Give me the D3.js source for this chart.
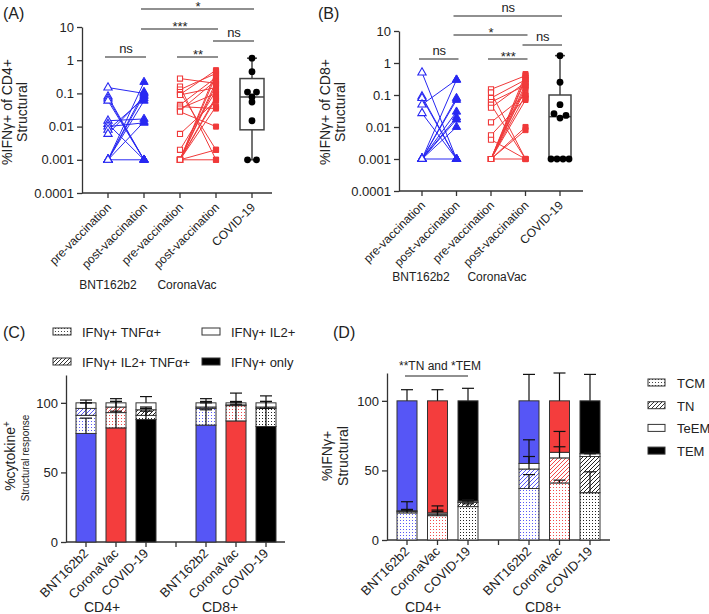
<!DOCTYPE html>
<html>
<head>
<script src="https://d3js.org/d3.v7.min.js"></script>
<style>
  body { margin: 0; background: #fff; }
  text { font-family: "Liberation Sans", Arial, sans-serif; fill: #222; }
  .axis path, .axis line { stroke: #333; stroke-width: 1.3; }
  .axis text { font-size: 13px; fill: #222; }
</style>
</head>
<body>
<div id="chart"></div>
<script>
// ---------- data ----------
// panels A/B: paired points (pre -> post) and COVID-19 convalescents
const pairLabels = ["pre-vaccination", "post-vaccination", "pre-vaccination", "post-vaccination", "COVID-19"];
const logTicks = [0.0001, 0.001, 0.01, 0.1, 1, 10];

const cd4BntPre  = [0.15, 0.08, 0.07, 0.06, 0.015, 0.012, 0.01, 0.008, 0.006, 0.001, 0.001, 0.001, 0.001, 0.001, 0.001];
const cd4BntPost = [0.1, 0.001, 0.001, 0.001, 0.017, 0.001, 0.013, 0.07, 0.08, 0.22, 0.11, 0.06, 0.014, 0.001, 0.09];
const cd4CorPre  = [0.28, 0.16, 0.13, 0.11, 0.093, 0.09, 0.045, 0.04, 0.035, 0.03, 0.028, 0.006, 0.002, 0.001, 0.001, 0.001, 0.001, 0.001, 0.001, 0.001, 0.001, 0.001];
const cd4CorPost = [0.2, 0.001, 0.4, 0.002, 0.5, 0.15, 0.3, 0.035, 0.1, 0.25, 0.01, 0.06, 0.12, 0.45, 0.35, 0.22, 0.18, 0.08, 0.04, 0.002, 0.001, 0.07];
const cd4Covid   = [1.15, 0.45, 0.11, 0.11, 0.078, 0.055, 0.015, 0.001, 0.001];

const cd8BntPre  = [0.5, 0.09, 0.08, 0.05, 0.027, 0.001, 0.001, 0.001, 0.001, 0.001, 0.001, 0.001, 0.001];
const cd8BntPost = [0.001, 0.001, 0.001, 0.3, 0.001, 0.3, 0.08, 0.07, 0.03, 0.02, 0.017, 0.01, 0.001];
const cd8CorPre  = [0.15, 0.12, 0.08, 0.06, 0.05, 0.04, 0.014, 0.0055, 0.004, 0.001, 0.001, 0.001, 0.001, 0.001, 0.001, 0.001, 0.001, 0.001, 0.001, 0.001];
const cd8CorPost = [0.4, 0.001, 0.3, 0.2, 0.001, 0.25, 0.1, 0.08, 0.001, 0.45, 0.35, 0.3, 0.18, 0.15, 0.1, 0.07, 0.01, 0.008, 0.001, 0.22];
const cd8Covid   = [1.7, 0.25, 0.05, 0.026, 0.019, 0.023, 0.001, 0.001, 0.001, 0.001];

const sigA = [
  { a: 0, b: 1, level: 0, label: "ns" },
  { a: 2, b: 3, level: 0, label: "**" },
  { a: 3, b: 4, level: 1, label: "ns" },
  { a: 1, b: 3, level: 2, label: "***" },
  { a: 1, b: 4, level: 3, label: "*" }
];
const sigB = [
  { a: 0, b: 1, level: 0, label: "ns" },
  { a: 2, b: 3, level: 0, label: "***" },
  { a: 3, b: 4, level: 1, label: "ns" },
  { a: 1, b: 3, level: 2, label: "*" },
  { a: 1, b: 4, level: 3, label: "ns" }
];

// panels C/D: stacked percentages
const slotKeys = ["CD4 BNT", "CD4 Cor", "CD4 Cov", "gap", "CD8 BNT", "CD8 Cor", "CD8 Cov"];
const slotLabels = ["BNT162b2", "CoronaVac", "COVID-19", "", "BNT162b2", "CoronaVac", "COVID-19"];
const barKeys = ["CD4 BNT", "CD4 Cor", "CD4 Cov", "CD8 BNT", "CD8 Cor", "CD8 Cov"];

const cytoOnly    = [78, 82, 88, 84, 87, 83];
const cytoTnf     = [13, 11, 3, 12, 11, 13];
const cytoIl2Tnf  = [5, 4, 4, 1, 0.5, 1];
const cytoIl2     = [4, 3, 5, 3, 1.5, 3];
const cytoOnlySd   = [11, 12, 6, 11, 12, 13];
const cytoTnfSd    = [9, 8, 5, 5, 3, 5];
const cytoIl2TnfSd = [4, 4, 2, 3, 2, 4];
const cytoIl2Sd    = [2, 3, 4.5, 3, 7, 5];

const memTcm  = [19.5, 17.5, 24, 37, 41, 34];
const memTn   = [1, 1, 3, 14, 18, 26];
const memTeem = [0.5, 1, 1, 4, 4, 2];
const memTem  = [79, 80.5, 72, 45, 37, 38];
const memTcmSd  = [8, 7, 2, 10, 2, 15];
const memTnSd   = [1, 2, 1, 9, 8, 2];
const memTeemSd = [1, 2, 1, 17, 15, 1];
const memTemSd  = [8, 8, 9, 19, 20, 19];

// ---------- setup ----------
const lineBlue = "#2828f2", lineRed = "#f03a3a";
const barBlue = "#5656f6", barRed = "#f43d3d";
const groupColors = [barBlue, barRed, "#000"];
const patColors = ["#5a5af5", "#f24a4a", "#222"];

const svg = d3.select("#chart").append("svg").attr("width", 709).attr("height", 614);
const defs = svg.append("defs");

function dotPattern(id, color) {
  const p = defs.append("pattern").attr("id", id).attr("patternUnits", "userSpaceOnUse")
    .attr("width", 3).attr("height", 3);
  p.append("rect").attr("width", 3).attr("height", 3).attr("fill", "#fff");
  p.append("rect").attr("x", 1).attr("y", 1).attr("width", 1).attr("height", 1).attr("fill", color);
}
function hatchPattern(id, color) {
  const p = defs.append("pattern").attr("id", id).attr("patternUnits", "userSpaceOnUse")
    .attr("width", 4).attr("height", 4);
  p.append("rect").attr("width", 4).attr("height", 4).attr("fill", "#fff");
  p.append("path").attr("d", "M-1,1 l2,-2 M0,4 l4,-4 M3,5 l2,-2")
    .attr("stroke", color).attr("stroke-width", 1);
}
patColors.forEach((c, i) => { dotPattern("dots" + i, c); hatchPattern("hatch" + i, c); });
dotPattern("dotsLeg", "#444");
hatchPattern("hatchLeg", "#333");

// GraphPad style quantile (position p*(n+1))
function gpQuantile(s, p) {
  const n = s.length, pos = p * (n + 1), lo = Math.floor(pos), fr = pos - lo;
  if (lo < 1) return s[0];
  if (lo >= n) return s[n - 1];
  return s[lo - 1] + fr * (s[lo] - s[lo - 1]);
}

// spread points that sit on (almost) the same height
function dodge(vals, py, gap) {
  const idx = d3.range(vals.length).sort((i, j) => py(vals[i]) - py(vals[j]));
  const off = new Array(vals.length).fill(0);
  let cluster = [idx[0]];
  const flush = () => {
    const cl = cluster.slice().sort((a, b) => a - b);
    cl.forEach((k, j) => off[k] = (j - (cl.length - 1) / 2) * gap);
  };
  for (let n = 1; n < idx.length; n++) {
    if (py(vals[idx[n]]) - py(vals[cluster[cluster.length - 1]]) < 4.5) cluster.push(idx[n]);
    else { flush(); cluster = [idx[n]]; }
  }
  flush();
  return off;
}

function panelLabel(txt, x, y) {
  svg.append("text").attr("x", x).attr("y", y).style("font-size", "16px").text(txt);
}

// ---------- panels A / B ----------
function pairedPanel(c) {
  const g = svg.append("g");
  const y = d3.scaleLog().domain([1e-4, 10]).range([c.y0, c.y1]);
  const x = d3.scalePoint().domain(d3.range(5)).range([c.x0, c.x1]);

  g.append("g").attr("class", "axis").attr("transform", `translate(${c.axisX},0)`)
    .call(d3.axisLeft(y).tickValues(logTicks).tickFormat(d => String(d)).tickSize(5).tickSizeOuter(0).tickPadding(3));

  const xa = g.append("g").attr("class", "axis").attr("transform", `translate(0,${c.y0})`);
  xa.append("line").attr("x1", c.axisX).attr("x2", c.xEnd);
  xa.selectAll(".tk").data(x.domain()).join("line").attr("class", "tk")
    .attr("x1", d => x(d)).attr("x2", d => x(d)).attr("y1", 0).attr("y2", 5);
  xa.selectAll(".lb").data(x.domain()).join("text").attr("class", "lb")
    .attr("transform", d => `translate(${x(d) + 1},12) rotate(-45)`)
    .attr("text-anchor", "end").attr("dy", "0.35em")
    .style("font-size", "12px").text(d => pairLabels[d]);

  // vaccine group names
  g.selectAll(".grp").data(["BNT162b2", "CoronaVac"]).join("text")
    .attr("x", (d, i) => c.groupX[i]).attr("y", c.groupY)
    .attr("text-anchor", "middle").style("font-size", "12px").text(d => d);

  // axis title
  g.append("text").attr("transform", `translate(${c.titleX},${c.titleY}) rotate(-90)`)
    .attr("text-anchor", "middle").style("font-size", "14px").text(c.title);
  g.append("text").attr("transform", `translate(${c.titleX + 15},${c.titleY}) rotate(-90)`)
    .attr("text-anchor", "middle").style("font-size", "14px").text("Structural");

  const groups = [
    { pre: c.bntPre, post: c.bntPost, a: 0, b: 1, color: lineBlue, shape: d3.symbolTriangle, size: 30 },
    { pre: c.corPre, post: c.corPost, a: 2, b: 3, color: lineRed, shape: d3.symbolSquare, size: 26 }
  ];
  groups.forEach(gr => {
    const pairs = gr.pre.map((v, i) => [v, gr.post[i]]);
    g.append("g").selectAll("line").data(pairs).join("line")
      .attr("x1", x(gr.a)).attr("x2", x(gr.b))
      .attr("y1", d => y(d[0])).attr("y2", d => y(d[1]))
      .attr("stroke", gr.color).attr("stroke-width", 1);
    const sym = d3.symbol().type(gr.shape).size(gr.size);
    g.append("g").selectAll("path").data(gr.pre).join("path")
      .attr("transform", d => `translate(${x(gr.a)},${y(d)})`).attr("d", sym)
      .attr("fill", "#fff").attr("stroke", gr.color).attr("stroke-width", 1.1);
    g.append("g").selectAll("path").data(gr.post).join("path")
      .attr("transform", d => `translate(${x(gr.b)},${y(d)})`).attr("d", sym)
      .attr("fill", gr.color).attr("stroke", gr.color).attr("stroke-width", 1);
  });

  // COVID-19 box and whiskers (min to max)
  const s = c.covid.slice().sort(d3.ascending);
  const q1 = gpQuantile(s, 0.25), med = gpQuantile(s, 0.5), q3 = gpQuantile(s, 0.75);
  const cx = x(4), bw = c.boxW, boxCol = "#444";
  g.append("line").attr("x1", cx).attr("x2", cx).attr("y1", y(s[s.length - 1])).attr("y2", y(q3))
    .attr("stroke", boxCol).attr("stroke-width", 1.5);
  g.append("line").attr("x1", cx).attr("x2", cx).attr("y1", y(q1)).attr("y2", y(s[0]))
    .attr("stroke", boxCol).attr("stroke-width", 1.5);
  [s[0], s[s.length - 1]].forEach(v => g.append("line")
    .attr("x1", cx - 5).attr("x2", cx + 5).attr("y1", y(v)).attr("y2", y(v))
    .attr("stroke", boxCol).attr("stroke-width", 1.5));
  g.append("rect").attr("x", cx - bw / 2).attr("width", bw).attr("y", y(q3)).attr("height", y(q1) - y(q3))
    .attr("fill", "none").attr("stroke", boxCol).attr("stroke-width", 1.5);
  g.append("line").attr("x1", cx - bw / 2).attr("x2", cx + bw / 2).attr("y1", y(med)).attr("y2", y(med))
    .attr("stroke", boxCol).attr("stroke-width", 1.5);
  const off = dodge(c.covid, y, c.dodgeGap);
  g.append("g").selectAll("circle").data(c.covid).join("circle")
    .attr("cx", (d, i) => cx + off[i]).attr("cy", d => y(d)).attr("r", 3.4).attr("fill", "#000");

  // significance bars
  c.sig.forEach(sg => {
    const ly = c.levels[sg.level];
    g.append("line").attr("x1", x(sg.a) - 3).attr("x2", x(sg.b) + 2).attr("y1", ly).attr("y2", ly)
      .attr("stroke", "#222").attr("stroke-width", 1.2);
    g.append("text").attr("x", (x(sg.a) + x(sg.b)) / 2).attr("y", sg.label === "ns" ? ly - 4 : ly + 1.5)
      .attr("text-anchor", "middle").style("font-size", "13px").text(sg.label);
  });
}

pairedPanel({
  axisX: 82, xEnd: 272, y0: 193, y1: 27, x0: 108, x1: 252,
  groupX: [108, 187], groupY: 289, titleX: 12, titleY: 112, title: "%IFNγ+ of CD4+",
  bntPre: cd4BntPre, bntPost: cd4BntPost, corPre: cd4CorPre, corPost: cd4CorPost, covid: cd4Covid,
  boxW: 24, dodgeGap: 9, sig: sigA, levels: [57, 41, 29, 9]
});
pairedPanel({
  axisX: 399, xEnd: 583, y0: 191, y1: 31, x0: 422, x1: 560,
  groupX: [421, 497], groupY: 281, titleX: 330, titleY: 112, title: "%IFNγ+ of CD8+",
  bntPre: cd8BntPre, bntPost: cd8BntPost, corPre: cd8CorPre, corPost: cd8CorPost, covid: cd8Covid,
  boxW: 22, dodgeGap: 6, sig: sigB, levels: [59, 45, 35, 16]
});
panelLabel("(A)", 3, 19);
panelLabel("(B)", 318, 19);

// ---------- panels C / D ----------
function stackPanel(c) {
  const g = svg.append("g");
  const y = d3.scaleLinear().domain([0, 120]).range([c.y0, c.y1]);
  const x = d3.scalePoint().domain(slotKeys).range([c.x0, c.x1]);
  const bw = 20;

  g.append("g").attr("class", "axis").attr("transform", `translate(${c.axisX},0)`)
    .call(d3.axisLeft(y).tickValues([0, 50, 100]).tickSize(5).tickSizeOuter(0).tickPadding(3));

  const xa = g.append("g").attr("class", "axis").attr("transform", `translate(0,${c.y0})`);
  xa.append("line").attr("x1", c.axisX).attr("x2", c.xEnd);
  xa.selectAll(".tk").data(slotKeys).join("line").attr("class", "tk")
    .attr("x1", d => x(d)).attr("x2", d => x(d)).attr("y1", 0).attr("y2", 5);
  xa.selectAll(".lb").data(slotKeys).join("text").attr("class", "lb")
    .attr("transform", d => `translate(${x(d)},9) rotate(-45)`)
    .attr("text-anchor", "end").attr("dy", "0.35em")
    .style("font-size", "13px").text((d, i) => slotLabels[i]);

  g.selectAll(".cd").data(["CD4+", "CD8+"]).join("text")
    .attr("x", (d, i) => c.cdX[i]).attr("y", 612).attr("text-anchor", "middle")
    .style("font-size", "14px").text(d => d);

  const rows = barKeys.map((k, i) => {
    const r = { key: k };
    c.keys.forEach((key, j) => r[key] = c.values[j][i]);
    return r;
  });
  const series = d3.stack().keys(c.keys)(rows);
  series.forEach(sr => {
    g.append("g").selectAll("rect").data(sr).join("rect")
      .attr("x", d => x(d.data.key) - bw / 2).attr("width", bw)
      .attr("y", d => y(d[1])).attr("height", d => y(d[0]) - y(d[1]))
      .attr("fill", (d, i) => c.fill(sr.key, i % 3))
      .attr("stroke", "#333").attr("stroke-width", 1);
  });
  // error bars (upward, from each segment top)
  series.forEach((sr, li) => {
    sr.forEach((d, i) => {
      const e = c.sd[li][i], bx = x(d.data.key);
      g.append("line").attr("x1", bx).attr("x2", bx).attr("y1", y(d[1])).attr("y2", y(d[1] + e))
        .attr("stroke", "#111").attr("stroke-width", 1.2);
      g.append("line").attr("x1", bx - 6).attr("x2", bx + 6).attr("y1", y(d[1] + e)).attr("y2", y(d[1] + e))
        .attr("stroke", "#111").attr("stroke-width", 1.2);
    });
  });
}

stackPanel({
  axisX: 66, xEnd: 285, y0: 542, y1: 375, x0: 86, x1: 266, cdX: [102, 220],
  keys: ["only", "tnf", "il2tnf", "il2"],
  values: [cytoOnly, cytoTnf, cytoIl2Tnf, cytoIl2],
  sd: [cytoOnlySd, cytoTnfSd, cytoIl2TnfSd, cytoIl2Sd],
  fill: (k, gi) => k === "only" ? groupColors[gi] : k === "tnf" ? `url(#dots${gi})`
    : k === "il2tnf" ? `url(#hatch${gi})` : "#fff"
});

stackPanel({
  axisX: 387, xEnd: 610, y0: 540, y1: 373, x0: 407, x1: 590, cdX: [423, 543],
  keys: ["tcm", "tn", "teem", "tem"],
  values: [memTcm, memTn, memTeem, memTem],
  sd: [memTcmSd, memTnSd, memTeemSd, memTemSd],
  fill: (k, gi) => k === "tem" ? groupColors[gi] : k === "tcm" ? `url(#dots${gi})`
    : k === "tn" ? `url(#hatch${gi})` : "#fff"
});

// C axis title
const cTitle = svg.append("text").attr("transform", "translate(15,456) rotate(-90)")
  .attr("text-anchor", "middle").style("font-size", "14px");
cTitle.append("tspan").text("%cytokine");
cTitle.append("tspan").attr("baseline-shift", "super").style("font-size", "10px").text("+");
svg.append("text").attr("transform", "translate(29,458) rotate(-90)")
  .attr("text-anchor", "middle").style("font-size", "10px").text("Structural response");

// D axis title
svg.append("text").attr("transform", "translate(332,456) rotate(-90)")
  .attr("text-anchor", "middle").style("font-size", "14px").text("%IFNγ+");
svg.append("text").attr("transform", "translate(348,456) rotate(-90)")
  .attr("text-anchor", "middle").style("font-size", "14px").text("Structural");

// D significance note
svg.append("line").attr("x1", 405).attr("x2", 468).attr("y1", 376).attr("y2", 376)
  .attr("stroke", "#222").attr("stroke-width", 1.2);
svg.append("text").attr("x", 440).attr("y", 370).attr("text-anchor", "middle")
  .style("font-size", "12px").text("**TN and *TEM");

// legends
const legC = [
  { label: "IFNγ+ TNFα+", fill: "url(#dotsLeg)" },
  { label: "IFNγ+ IL2+", fill: "#fff" },
  { label: "IFNγ+ IL2+ TNFα+", fill: "url(#hatchLeg)" },
  { label: "IFNγ+ only", fill: "#000" }
];
const legCx = [53, 202], legCy = [332, 362];
legC.forEach((d, i) => {
  const lx = legCx[i % 2], ly = legCy[Math.floor(i / 2)];
  svg.append("rect").attr("x", lx).attr("y", ly - 4).attr("width", 18).attr("height", 7)
    .attr("fill", d.fill).attr("stroke", "#333").attr("stroke-width", 1);
  svg.append("text").attr("x", lx + 29).attr("y", ly + 5).style("font-size", "13px").text(d.label);
});

const legD = [
  { label: "TCM", fill: "url(#dotsLeg)" },
  { label: "TN", fill: "url(#hatchLeg)" },
  { label: "TeEM", fill: "#fff" },
  { label: "TEM", fill: "#000" }
];
legD.forEach((d, i) => {
  const ly = 383 + i * 22.7;
  svg.append("rect").attr("x", 648).attr("y", ly - 4).attr("width", 17).attr("height", 7)
    .attr("fill", d.fill).attr("stroke", "#333").attr("stroke-width", 1);
  svg.append("text").attr("x", 677).attr("y", ly + 5).style("font-size", "13px").text(d.label);
});

panelLabel("(C)", 3, 338);
panelLabel("(D)", 333, 338);
</script>
</body>
</html>
